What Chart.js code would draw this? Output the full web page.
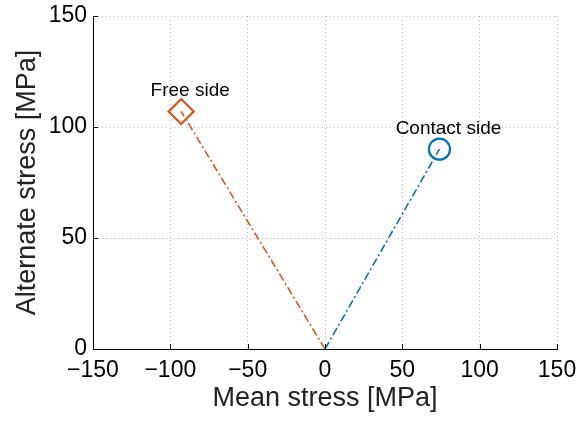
<!DOCTYPE html>
<html>
<head>
<meta charset="utf-8">
<script src="https://cdn.jsdelivr.net/npm/chart.js@4/dist/chart.umd.min.js"></script>
<style>
  html, body { margin: 0; padding: 0; background: #fff; }
  #wrap { width: 581px; height: 421px; }
</style>
</head>
<body>
<div id="wrap"><canvas id="stress-chart" width="581" height="421"></canvas></div>
<script>
// mean / alternate stress for each side, each joined to the origin
const sideNames = ['Free side', 'Contact side'];
const meanStress = [-93, 74];
const alternateStress = [107, 90];
const sideColors = ['#D95319', '#0072BD'];
const sideMarkers = ['rectRot', 'circle'];
const markerSizes = [12.5, 10.5];

const xTicks = [-150, -100, -50, 0, 50, 100, 150];
const yTicks = [0, 50, 100, 150];

const FONT = 'Liberation Sans, Arial, Helvetica, sans-serif';

const datasets = sideNames.map((name, i) => ({
    label: name,
    data: [{ x: 0, y: 0 }, { x: meanStress[i], y: alternateStress[i] }],
    showLine: true,
    borderColor: sideColors[i],
    borderWidth: 1.6,
    borderDash: [8, 3, 2, 3],
    pointStyle: sideMarkers[i],
    pointRadius: [0, markerSizes[i]],
    pointBorderWidth: 2.2,
    pointBorderColor: sideColors[i],
    pointBackgroundColor: 'rgba(0,0,0,0)'
}));

// short tick marks pointing into the plot, plus the side names above markers
const inwardTicks = {
    id: 'inwardTicks',
    afterDatasetsDraw(chart) {
        const { ctx, chartArea, scales } = chart;
        ctx.save();
        ctx.strokeStyle = '#000';
        ctx.lineWidth = 1;
        ctx.beginPath();
        xTicks.forEach((v) => {
            const px = Math.round(scales.x.getPixelForValue(v)) + 0.5;
            ctx.moveTo(px, chartArea.bottom);
            ctx.lineTo(px, chartArea.bottom - 5);
        });
        yTicks.forEach((v) => {
            const py = Math.round(scales.y.getPixelForValue(v)) + 0.5;
            ctx.moveTo(chartArea.left, py);
            ctx.lineTo(chartArea.left + 5, py);
        });
        ctx.stroke();

        ctx.fillStyle = '#000';
        ctx.font = '19px ' + FONT;
        ctx.textAlign = 'center';
        ctx.textBaseline = 'alphabetic';
        chart.data.datasets.forEach((ds, i) => {
            const pt = chart.getDatasetMeta(i).data[1];
            ctx.fillText(ds.label, pt.x + 9, pt.y - 15);
        });
        ctx.restore();
    }
};

const gridStyle = {
    color: '#b4b4b4',
    lineWidth: 1,
    drawTicks: false
};

new Chart(document.getElementById('stress-chart'), {
    type: 'scatter',
    data: { datasets },
    options: {
        responsive: false,
        animation: false,
        layout: { padding: { top: 16, right: 24, left: 0, bottom: 0 } },
        plugins: {
            legend: { display: false },
            tooltip: { enabled: false }
        },
        scales: {
            x: {
                type: 'linear',
                min: -150,
                max: 150,
                afterBuildTicks: (scale) => {
                    scale.ticks = xTicks.map((v) => ({ value: v }));
                },
                afterFit: (scale) => {
                    scale.height = 72;
                    scale.paddingLeft = 0;
                    scale.paddingRight = 0;
                },
                grid: gridStyle,
                border: { display: true, color: '#000', width: 1, dash: [1, 3] },
                ticks: {
                    padding: 8,
                    color: '#000',
                    font: { family: FONT, size: 23 },
                    callback: (v) => String(v).replace('-', '\u2212')
                },
                title: {
                    display: true,
                    text: 'Mean stress [MPa]',
                    color: '#222',
                    font: { family: FONT, size: 27 },
                    padding: { top: 0, bottom: 6 }
                }
            },
            y: {
                type: 'linear',
                min: 0,
                max: 150,
                afterBuildTicks: (scale) => {
                    scale.ticks = yTicks.map((v) => ({ value: v }));
                },
                afterFit: (scale) => {
                    scale.width = 93;
                    scale.paddingTop = 0;
                    scale.paddingBottom = 0;
                },
                grid: gridStyle,
                border: { display: true, color: '#000', width: 1, dash: [1, 3] },
                ticks: {
                    padding: 6,
                    color: '#000',
                    font: { family: FONT, size: 23 }
                },
                title: {
                    display: true,
                    text: 'Alternate stress [MPa]',
                    color: '#222',
                    font: { family: FONT, size: 27 },
                    padding: { top: 11, bottom: 0 }
                }
            }
        }
    },
    plugins: [inwardTicks]
});
</script>
</body>
</html>
